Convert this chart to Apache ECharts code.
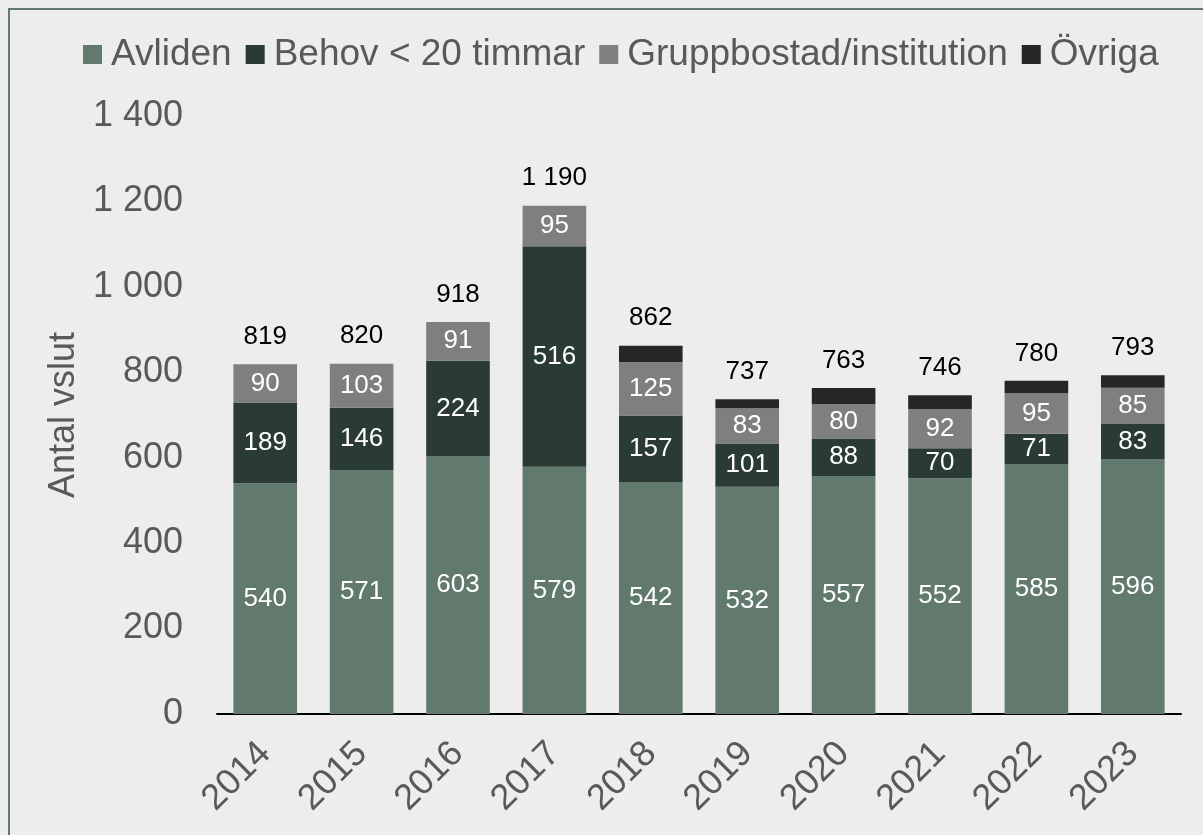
<!DOCTYPE html>
<html>
<head>
<meta charset="utf-8">
<script src="https://cdn.jsdelivr.net/npm/echarts@6/dist/echarts.min.js"></script>
<style>
  html, body { margin: 0; padding: 0; background: #ededed; }
  #chart { width: 1203px; height: 835px; }
</style>
</head>
<body>
<div id="chart"></div>
<script>
const years = ['2014', '2015', '2016', '2017', '2018', '2019', '2020', '2021', '2022', '2023'];
const avliden = [540, 571, 603, 579, 542, 532, 557, 552, 585, 596];
const behov = [189, 146, 224, 516, 157, 101, 88, 70, 71, 83];
const gruppbostad = [90, 103, 91, 95, 125, 83, 80, 92, 95, 85];
const ovriga = [0, 0, 0, 0, 38, 21, 38, 32, 29, 29];
const totals = [819, 820, 918, 1190, 862, 737, 763, 746, 780, 793];

const font = 'Liberation Sans, Arial, sans-serif';
const fmt = v => String(v).replace(/\B(?=(\d{3})+(?!\d))/g, ' ');

const inLabel = {
  show: true,
  position: 'inside',
  color: '#ffffff',
  fontSize: 26,
  fontFamily: font,
  formatter: p => fmt(p.value)
};

const chart = echarts.init(document.getElementById('chart'));

chart.setOption({
  backgroundColor: '#ededed',
  animation: false,
  graphic: [{
    type: 'rect',
    shape: { x: 9, y: 9, width: 1220, height: 860 },
    style: { fill: 'none', stroke: '#627a6e', lineWidth: 2 },
    silent: true
  }],
  legend: {
    top: 31,
    left: 78,
    itemWidth: 19,
    itemHeight: 19,
    itemGap: 14,
    icon: 'rect',
    data: ['Avliden', 'Behov < 20 timmar', 'Gruppbostad/institution', 'Övriga'],
    textStyle: { fontSize: 37, color: '#595959', fontFamily: font, padding: [0, 0, 0, 4] }
  },
  grid: { left: 217, right: 22, top: 116, bottom: 121 },
  xAxis: {
    type: 'category',
    data: years,
    axisLine: { lineStyle: { color: '#000000', width: 2 } },
    axisTick: { show: false },
    axisLabel: { rotate: 45, fontSize: 36, color: '#595959', fontFamily: font, margin: 34 }
  },
  yAxis: {
    type: 'value',
    min: 0,
    max: 1400,
    interval: 200,
    name: 'Antal vslut',
    nameLocation: 'middle',
    nameGap: 133,
    nameTextStyle: { fontSize: 36, color: '#595959', fontFamily: font },
    splitLine: { show: false },
    axisLine: { show: false },
    axisTick: { show: false },
    axisLabel: { fontSize: 36, color: '#595959', fontFamily: font, margin: 34, formatter: fmt }
  },
  series: [
    {
      name: 'Avliden', type: 'bar', stack: 'a', data: avliden,
      barCategoryGap: '34%',
      itemStyle: { color: '#627a6e' }, label: inLabel
    },
    {
      name: 'Behov < 20 timmar', type: 'bar', stack: 'a', data: behov,
      itemStyle: { color: '#2a3b35' }, label: inLabel
    },
    {
      name: 'Gruppbostad/institution', type: 'bar', stack: 'a', data: gruppbostad,
      itemStyle: { color: '#7f7f7f' }, label: inLabel
    },
    {
      name: 'Övriga', type: 'bar', stack: 'a', data: ovriga,
      itemStyle: { color: '#262626' }, label: { show: false }
    },
    {
      name: 'Totalt', type: 'line', data: totals,
      symbol: 'circle',
      symbolSize: 1,
      showSymbol: true,
      itemStyle: { color: 'rgba(0,0,0,0)' },
      lineStyle: { opacity: 0 },
      silent: true,
      z: 5,
      label: {
        show: true, position: 'top', distance: 14,
        color: '#000000', fontSize: 26, fontFamily: font,
        formatter: p => fmt(p.value)
      }
    }
  ]
});

window.addEventListener('resize', () => {
  chart.resize();
});
</script>
</body>
</html>
